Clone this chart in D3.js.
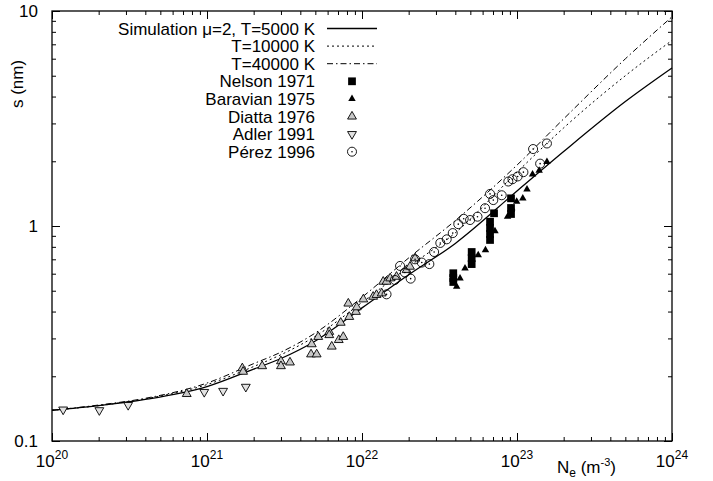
<!DOCTYPE html>
<html>
<head>
<meta charset="utf-8">
<script src="https://cdn.jsdelivr.net/npm/d3@7"></script>
<style>
body { margin: 0; background: #fff; }
text { font-family: "Liberation Sans", Arial, Helvetica, sans-serif; fill: #000; }
</style>
</head>
<body>
<script>
// simulation curves
var simN = [1e20, 2e20, 4e20, 1e21, 2e21, 3e21, 5e21, 1e22, 2e22, 4e22, 1e23, 2e23, 5e23, 1e24];
var simT5000 = [0.139, 0.146, 0.156, 0.179, 0.216, 0.242, 0.292, 0.416, 0.593, 0.83, 1.455, 2.22, 3.79, 5.43];
var simT10000 = [0.139, 0.146, 0.157, 0.183, 0.222, 0.252, 0.307, 0.441, 0.646, 0.93, 1.78, 2.86, 5.0, 7.3];
var simT40000 = [0.139, 0.147, 0.158, 0.186, 0.229, 0.259, 0.318, 0.466, 0.71, 1.06, 1.92, 3.15, 5.99, 9.4];

// measurements
var nelsonN = [3.88e22, 3.88e22, 3.88e22, 5.10e22, 5.10e22, 5.10e22, 6.70e22, 6.70e22, 6.70e22, 6.70e22, 7.11e22, 9.15e22, 9.15e22, 9.15e22];
var nelsonS = [0.603, 0.573, 0.549, 0.757, 0.709, 0.665, 1.047, 0.979, 0.918, 0.861, 1.146, 1.345, 1.213, 1.137];

var baravianN = [4.08e22, 4.29e22, 4.62e22, 5.62e22, 6.26e22, 7.21e22, 8.69e22, 9.25e22, 9.95e22, 1.09e23, 1.16e23, 1.26e23, 1.39e23, 1.56e23];
var baravianS = [0.523, 0.571, 0.636, 0.733, 0.773, 0.948, 1.105, 1.21, 1.30, 1.345, 1.48, 1.74, 1.81, 1.99];

var diattaN = [7.4e20, 1.69e21, 1.71e21, 2.27e21, 3.0e21, 3.0e21, 3.43e21, 4.69e21, 5.1e21, 4.74e21, 5.22e21, 6.15e21, 6.15e21, 6.38e21, 7.08e21, 7.57e21,
    7.29e21, 8.28e21, 8.16e21, 9.14e21, 9.25e21, 1.02e22, 1.18e22, 1.24e22, 1.34e22, 1.37e22, 1.44e22, 1.52e22, 1.67e22, 1.94e22, 2.04e22, 2.20e22];
var diattaS = [0.1655, 0.218, 0.210, 0.223, 0.235, 0.223, 0.232, 0.253, 0.253, 0.282, 0.305, 0.322, 0.311, 0.275, 0.295, 0.305,
    0.355, 0.378, 0.436, 0.399, 0.419, 0.456, 0.469, 0.478, 0.486, 0.551, 0.551, 0.571, 0.581, 0.624, 0.647, 0.708];

var adlerN = [1.18e20, 2.02e20, 3.1e20, 9.6e20, 1.27e21, 1.78e21];
var adlerS = [0.140, 0.139, 0.147, 0.169, 0.171, 0.1786];

var perezN = [1.44e22, 1.63e22, 1.76e22, 1.89e22, 2.06e22, 2.20e22, 2.43e22, 2.72e22, 2.92e22, 3.20e22, 3.52e22, 3.85e22, 4.18e22, 4.53e22,
    4.98e22, 5.56e22, 6.22e22, 6.70e22, 7.03e22, 7.97e22, 8.79e22, 9.35e22, 1.01e23, 1.10e23, 1.27e23, 1.41e23, 1.56e23];
var perezS = [0.481, 0.561, 0.652, 0.608, 0.569, 0.700, 0.676, 0.665, 0.757, 0.834, 0.867, 0.927, 1.02, 1.08,
    1.066, 1.105, 1.21, 1.41, 1.32, 1.39, 1.61, 1.65, 1.70, 1.78, 2.28, 1.95, 2.42];

// ticks and labels
var xMajor = [1e20, 1e21, 1e22, 1e23, 1e24];
var xExp = ["20", "21", "22", "23", "24"];
var yMajor = [0.1, 1, 10];
var yLabels = ["0.1", "1", "10"];

var w = 713, h = 481;
var plotL = 52, plotR = 672, plotT = 11, plotB = 441;

var x = d3.scaleLog().domain([1e20, 1e24]).range([plotL, plotR]);
var y = d3.scaleLog().domain([0.1, 10]).range([plotB, plotT]);

var svg = d3.select("body").append("svg")
    .attr("width", w)
    .attr("height", h);

// minor tick positions 2..9 in each decade
var xMinor = [];
xMajor.slice(0, 4).forEach(function(v){
    for (var m = 2; m <= 9; m++) xMinor.push(v * m);
});
var yMinor = [];
yMajor.slice(0, 2).forEach(function(v){
    for (var m = 2; m <= 9; m++) yMinor.push(v * m);
});

function tickAxis(axis, tx, ty){
    var g = svg.append("g")
        .attr("transform", "translate(" + tx + "," + ty + ")")
        .call(axis);
    g.select(".domain").remove();
    g.selectAll("line").attr("stroke", "#000").attr("stroke-width", 1);
    g.selectAll("text").remove();
}

[[xMajor, 8], [xMinor, 4]].forEach(function(t){
    tickAxis(d3.axisBottom(x).tickValues(t[0]).tickSize(-t[1]), 0, plotB);
    tickAxis(d3.axisTop(x).tickValues(t[0]).tickSize(-t[1]), 0, plotT);
});
[[yMajor, 8], [yMinor, 4]].forEach(function(t){
    tickAxis(d3.axisLeft(y).tickValues(t[0]).tickSize(-t[1]), plotL, 0);
    tickAxis(d3.axisRight(y).tickValues(t[0]).tickSize(-t[1]), plotR, 0);
});

// frame
svg.append("rect")
    .attr("x", plotL).attr("y", plotT)
    .attr("width", plotR - plotL).attr("height", plotB - plotT)
    .attr("fill", "none").attr("stroke", "#000").attr("stroke-width", 1.3);

// x tick labels with superscripts
var xl = svg.selectAll(".xlab").data(xMajor).enter().append("text")
    .attr("class", "xlab")
    .attr("x", function(d){ return x(d); })
    .attr("y", 467)
    .attr("text-anchor", "middle")
    .style("font-size", "17px");
xl.append("tspan").text("10");
xl.append("tspan").attr("dy", -8).style("font-size", "12px")
    .text(function(d, i){ return xExp[i]; });

// y tick labels
svg.selectAll(".ylab").data(yMajor).enter().append("text")
    .attr("class", "ylab")
    .attr("x", 38)
    .attr("y", function(d){ return y(d) + 6; })
    .attr("text-anchor", "end")
    .style("font-size", "17px")
    .text(function(d, i){ return yLabels[i]; });

// axis titles
svg.append("text")
    .attr("transform", "translate(23,84) rotate(-90)")
    .attr("text-anchor", "middle")
    .style("font-size", "17px")
    .text("s (nm)");

var xt = svg.append("text")
    .attr("x", 557).attr("y", 473)
    .style("font-size", "17px");
xt.append("tspan").text("N");
xt.append("tspan").attr("dy", 4).style("font-size", "12px").text("e");
xt.append("tspan").attr("dy", -4).text(" (m");
xt.append("tspan").attr("dy", -7).style("font-size", "11px").text("-3");
xt.append("tspan").attr("dy", 7).text(")");

// curves
var line = d3.line()
    .x(function(d){ return x(d[0]); })
    .y(function(d){ return y(d[1]); })
    .curve(d3.curveMonotoneX);

var curves = [
    { vals: simT5000, dash: null, label: "Simulation \u03bc=2, T=5000 K" },
    { vals: simT10000, dash: "2,3", label: "T=10000 K" },
    { vals: simT40000, dash: "6,3,1.5,3", label: "T=40000 K" }
];

curves.forEach(function(c){
    svg.append("path")
        .datum(d3.zip(simN, c.vals))
        .attr("d", line)
        .attr("fill", "none")
        .attr("stroke", "#000")
        .attr("stroke-width", c.dash ? 1 : 1.3)
        .attr("stroke-dasharray", c.dash);
});

// marker series
var series = [
    { n: nelsonN, s: nelsonS, type: d3.symbolSquare, size: 60, fill: "#000", stroke: "none", rot: 0, label: "Nelson 1971" },
    { n: baravianN, s: baravianS, type: d3.symbolTriangle, size: 24, fill: "#000", stroke: "none", rot: 0, label: "Baravian 1975" },
    { n: diattaN, s: diattaS, type: d3.symbolTriangle, size: 34, fill: "#c8c8c8", stroke: "#000", rot: 0, label: "Diatta 1976" },
    { n: adlerN, s: adlerS, type: d3.symbolTriangle, size: 34, fill: "#e2e2e2", stroke: "#000", rot: 180, label: "Adler 1991" },
    { n: perezN, s: perezS, type: d3.symbolCircle, size: 64, fill: "none", stroke: "#000", rot: 0, label: "P\u00e9rez 1996" }
];

function drawMarker(g, sr){
    g.append("path")
        .attr("d", d3.symbol().type(sr.type).size(sr.size))
        .attr("transform", "rotate(" + sr.rot + ")")
        .attr("fill", sr.fill)
        .attr("stroke", sr.stroke)
        .attr("stroke-width", 0.9);
    if (sr.type === d3.symbolCircle) {
        g.append("circle").attr("r", 0.8).attr("fill", "#000");
    }
}

series.forEach(function(sr){
    d3.zip(sr.n, sr.s).forEach(function(p){
        var g = svg.append("g")
            .attr("transform", "translate(" + x(p[0]) + "," + y(p[1]) + ")");
        drawMarker(g, sr);
    });
});

// legend
var legX = 315, legY0 = 28.5, legStep = 17.6;
curves.forEach(function(c, i){
    var ly = legY0 + i * legStep;
    svg.append("text")
        .attr("x", legX).attr("y", ly + 6)
        .attr("text-anchor", "end")
        .style("font-size", "17px")
        .text(c.label);
    svg.append("line")
        .attr("x1", 327).attr("x2", 377)
        .attr("y1", ly).attr("y2", ly)
        .attr("stroke", "#000")
        .attr("stroke-width", c.dash ? 1 : 1.3)
        .attr("stroke-dasharray", c.dash);
});
series.forEach(function(sr, i){
    var ly = legY0 + (i + 3) * legStep;
    svg.append("text")
        .attr("x", legX).attr("y", ly + 6)
        .attr("text-anchor", "end")
        .style("font-size", "17px")
        .text(sr.label);
    var g = svg.append("g").attr("transform", "translate(352," + ly + ")");
    drawMarker(g, sr);
});
</script>
</body>
</html>
